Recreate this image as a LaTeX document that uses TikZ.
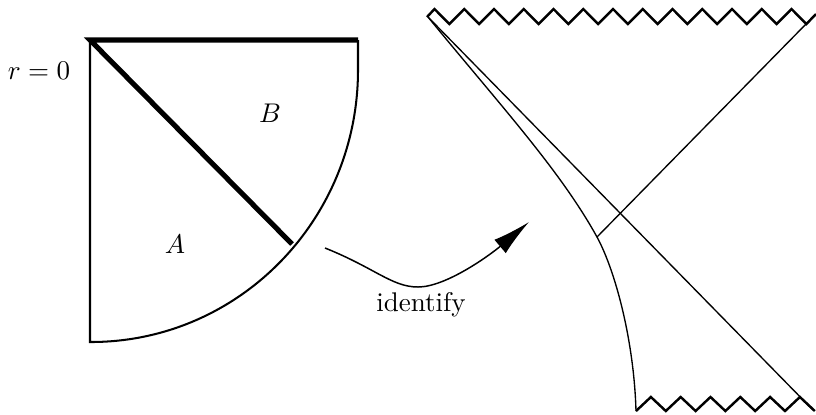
\documentclass[tikz,border=0pt]{standalone}
\usetikzlibrary{arrows.meta}

\begin{document}
\begin{tikzpicture}[
        x=0.37pt, y=-0.37pt,
        edge/.style={line width=0.75pt},
        heavy/.style={line width=1.9pt},
        fine/.style={line width=0.5pt},
        sing/.style={line width=0.9pt, line join=miter},
        lbl/.style={inner sep=0pt}
      ]
      \useasboundingbox (0,0) rectangle (816,414);

      % left: the region cut along the null line
      \coordinate (origin) at (90,40);
      \coordinate (corner) at (358,40);
      \coordinate (meet) at (292,244);
      \draw[edge] (corner) -- (358,70) arc[start angle=0, end angle=90, x radius=267, y radius=272]
        -- (90,342) -- (origin);
      \draw[heavy] (corner) -- (origin) -- (meet);

      \node[lbl] (rzero) at (39,71) {$r=0$};
      \node[lbl] (regB) at (270,113) {$B$};
      \node[lbl] (regA) at (175,244) {$A$};

      % arrow
      \coordinate (from) at (325,248);
      \coordinate (to) at (529,222);
      \draw[line width=0.55pt, -{Latex[length=14pt,width=6.5pt]}]
        (from) .. controls (375,268) and (392,287) .. (418,287)
        .. controls (446,287) and (490,255) .. (to);
      \node[lbl] (ident) at (421,305) {identify};

      % right: Penrose diagram
      \coordinate (tl) at (428,17);
      \coordinate (tr) at (807,23);
      \coordinate (br) at (812,409);
      \coordinate (cut) at (597,237);
      \coordinate (bl) at (636,411);
      \draw[sing] (427,17) \foreach \i in {0,...,11} { -- ({434.5+29.75*\i},9) -- ({449.4+29.75*\i},24) }
        -- (791.5,9) -- (806.4,24) -- (816,14);
      \draw[sing] (bl) \foreach \i in {0,...,5} { -- ({650.9+29.8*\i},397) -- ({665.8+29.8*\i},411) };
      \draw[fine] (tl) -- (br);
      \draw[fine] (tr) -- (cut);
      \draw[fine] (tl) .. controls (500,105) and (560,170) .. (cut)
        .. controls (615,270) and (634,340) .. (bl);
    \end{tikzpicture}
\end{document}
